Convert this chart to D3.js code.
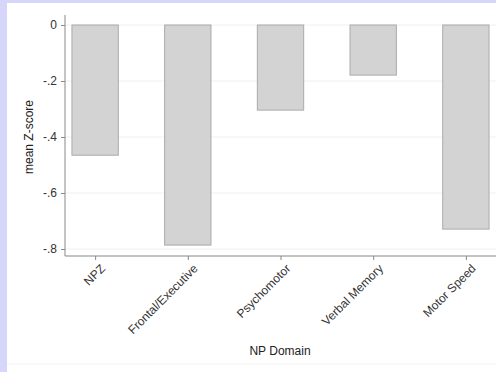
<!DOCTYPE html>
<html><head><meta charset="utf-8">
<script src="https://cdn.jsdelivr.net/npm/d3@7"></script>
<style>html,body{margin:0;padding:0;background:#fff;}svg{display:block;}</style>
</head><body>
<script>
const categories = ["NPZ", "Frontal/Executive", "Psychomotor", "Verbal Memory", "Motor Speed"];
const values = [-0.465, -0.786, -0.304, -0.179, -0.729];
const yTicks = [0, -0.2, -0.4, -0.6, -0.8];
const yTickLabels = ["0", "-.2", "-.4", "-.6", "-.8"];

(function () {
const W = 496, H = 372;
const FONT = "Liberation Sans, Arial, sans-serif";
const svg = d3.select("body").append("svg").attr("width", W).attr("height", H);
svg.append("rect").attr("width", W).attr("height", H).attr("fill", "#d6d6fa");
svg.append("rect").attr("x", 7).attr("y", 3).attr("width", W - 7).attr("height", H - 3).attr("fill", "#ffffff");
svg.append("line").attr("x1", 7).attr("x2", W).attr("y1", 364).attr("y2", 364).attr("stroke", "#f2f2f2");

const mLeft = 65, mRight = 496, mTop = 25, mBottom = 249, axisY = 256;
const x = d3.scalePoint().domain(categories).range([mLeft, mRight]).padding(0.325);
const y = d3.scaleLinear().domain([0, -0.8]).range([mTop, mBottom]);
const bw = x.step() * 0.5;

svg.append("g").selectAll("line").data(yTicks).join("line")
  .attr("x1", mLeft).attr("x2", mRight)
  .attr("y1", d => y(d)).attr("y2", d => y(d))
  .attr("stroke", "#f0f0f0").attr("stroke-width", 1);

svg.append("g").selectAll("rect").data(values).join("rect")
  .attr("x", (d, i) => x(categories[i]) - bw / 2)
  .attr("y", d => y(0))
  .attr("width", bw)
  .attr("height", d => y(d) - y(0))
  .attr("fill", "#d3d3d3").attr("stroke", "#aaaaaa").attr("stroke-width", 1);

const yAxis = d3.axisLeft(y).tickValues(yTicks).tickFormat((d, i) => yTickLabels[i]).tickSize(4).tickPadding(4);
const gy = svg.append("g").attr("transform", `translate(${mLeft},0)`).call(yAxis);
gy.select(".domain").attr("d", `M0,${mTop - 10}V${axisY}`).attr("stroke", "#888");
gy.selectAll(".tick line").attr("stroke", "#888");
gy.selectAll("text").attr("font-family", FONT).attr("font-size", 12).attr("fill", "#333");

const xAxis = d3.axisBottom(x).tickSize(4).tickPadding(2);
const gx = svg.append("g").attr("transform", `translate(0,${axisY})`).call(xAxis);
gx.select(".domain").attr("d", `M${mLeft},0H${mRight}`).attr("stroke", "#888");
gx.selectAll(".tick line").attr("stroke", "#888");
gx.selectAll("text")
  .attr("font-family", FONT).attr("font-size", 12).attr("fill", "#333")
  .attr("text-anchor", "end").attr("dy", "0.35em")
  .attr("transform", "translate(3,6) rotate(-45)");

svg.append("text").attr("transform", `translate(33,${(mTop + mBottom) / 2}) rotate(-90)`)
  .attr("text-anchor", "middle").attr("font-family", FONT)
  .attr("font-size", 12).attr("fill", "#222").text("mean Z-score");
svg.append("text").attr("x", 280).attr("y", 355)
  .attr("text-anchor", "middle").attr("font-family", FONT)
  .attr("font-size", 12).attr("fill", "#222").text("NP Domain");
})();
</script>
</body></html>
